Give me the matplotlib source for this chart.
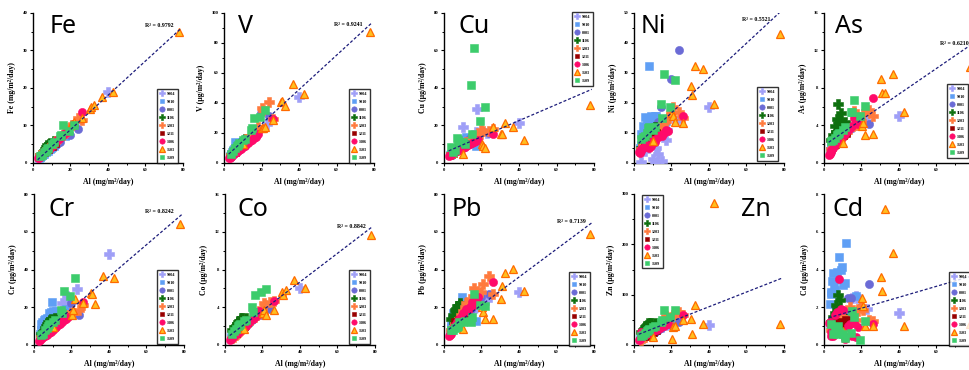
import numpy as np
import matplotlib
matplotlib.use("Agg")
import matplotlib.pyplot as plt
from matplotlib.lines import Line2D

# ---------------- data ----------------
sites = ["9904", "9910", "0001", "1106", "1203", "1211", "1306", "1503", "1509"]

# Al deposition flux (mg/m2/day) for each sampling campaign
al_9904 = [4, 6, 8, 10, 11, 12, 13, 15, 17, 17.5, 23, 40]
al_9910 = [3, 3.5, 4, 4.5, 5, 5.5, 6, 7, 8, 9, 9.5, 10, 11, 12, 17]
al_0001 = [4, 6, 9, 11, 13, 14.5, 19.5, 24]
al_1106 = [4, 4.8, 5.7, 6.5, 6.9, 7.4, 8.3, 8.5, 9, 11.3]
al_1203 = [4, 5, 6, 7, 8, 9, 10, 11, 12, 14, 16, 17, 18, 20, 21, 24, 26]
al_1211 = [6, 8, 10, 12]
al_1306 = [2.5, 3, 3.5, 4, 5, 6, 7, 8, 9, 10, 11, 12, 13, 14, 15, 16, 17, 18, 26]
al_1503 = [10, 20.5, 21, 22, 26, 30.5, 31, 32.5, 37, 42.5, 78]
al_1509 = [4, 5, 6, 7, 7.5, 8, 10, 11, 14.5, 15, 16, 19, 22]
al = {"9904": al_9904, "9910": al_9910, "0001": al_0001, "1106": al_1106,
      "1203": al_1203, "1211": al_1211, "1306": al_1306, "1503": al_1503,
      "1509": al_1509}

fe = {
    "9904": [1.7, 2.6, 3.5, 4.4, 4.9, 5.3, 5.8, 6.8, 7.8, 8.2, 11, 19],
    "9910": [1.3, 1.5, 1.7, 1.9, 2.1, 2.3, 2.5, 2.9, 3.3, 3.7, 3.9, 4.2, 4.6, 5.0, 7.2],
    "0001": [1.8, 2.6, 3.7, 4.5, 5.0, 5.5, 7.5, 9.0],
    "1106": [2.0, 2.5, 3.2, 3.8, 4.3, 4.8, 4.6, 5.0, 5.2, 5.8],
    "1203": [2.0, 2.4, 2.9, 3.3, 3.8, 4.2, 4.7, 5.1, 5.6, 6.6, 7.5, 8.0, 8.5, 9.5, 10.0, 12.0, 11.5],
    "1211": [2.8, 3.6, 4.4, 5.3],
    "1306": [1.2, 1.4, 1.6, 1.9, 2.3, 2.8, 3.3, 3.7, 4.1, 4.6, 5.0, 5.5, 6.0, 6.4, 7.0, 7.5, 8.0, 8.3, 13.5],
    "1503": [5.0, 10.0, 10.5, 11.0, 12.0, 14.5, 14.8, 15.5, 17.5, 18.8, 35.0],
    "1509": [1.8, 2.2, 2.8, 3.3, 3.6, 4.0, 5.0, 5.5, 7.2, 7.5, 10.0, 8.4, 10.2],
}
v = {
    "9904": [5, 7, 9.5, 12, 13, 14, 15.5, 17.5, 20, 21, 26, 44],
    "9910": [4.5, 5.5, 6, 7, 8.5, 9, 14, 11, 12, 13, 14, 14, 15, 16, 19],
    "0001": [5, 7.5, 11, 13, 16, 18, 33.5, 31],
    "1106": [5.5, 6.5, 8, 9.5, 10, 11, 12, 12.5, 13.5, 16],
    "1203": [5, 6.5, 8, 9, 10.5, 12, 13, 14.5, 16, 18, 20, 22, 24, 36.5, 35, 40.5, 29],
    "1211": [7.5, 10, 12, 14.5],
    "1306": [3, 3.5, 4, 4.5, 5.5, 6.5, 7.5, 8.5, 9.5, 10.5, 11.5, 12.5, 13.5, 14.5, 15.5, 16.5, 17.5, 19, 29],
    "1503": [12.5, 23.5, 23, 24.3, 28.7, 40.5, 41, 38.1, 52.8, 46.1, 87],
    "1509": [6, 8, 10, 11, 12, 13, 15, 16, 22, 23.2, 29.8, 30.5, 35.4],
}
cu = {
    "9904": [5, 6, 8, 19.4, 9, 10, 12, 14, 16.7, 29, 16, 21.5],
    "9910": [4, 5, 5, 6, 7, 6.5, 8, 8, 9, 10, 10, 11, 13, 14, 9],
    "0001": [5, 6, 8, 10, 12, 14, 16.7, 16.2],
    "1106": [5, 5.5, 6, 7, 7.5, 8, 8.5, 9, 9, 10],
    "1203": [5, 5.5, 6, 7, 8, 9, 10, 10.5, 11, 12, 13, 13.5, 14, 17.5, 17, 17, 18.2],
    "1211": [7, 8, 9, 10],
    "1306": [3.5, 4, 4.5, 5, 5.5, 6, 6.5, 7, 7.5, 8, 8.5, 9, 9.5, 10, 10.5, 11, 11.5, 12, 15.5],
    "1503": [4.8, 10, 9.3, 8.2, 19.4, 15.5, 15.3, 21.2, 19.4, 12.3, 31],
    "1509": [8.7, 6, 7, 13.5, 12, 11, 11.4, 10, 41.4, 15.3, 61.3, 22.6, 29.8],
}
ni = {
    "9904": [0.3, 4, 6, 1.2, 0.1, 4.9, 2.9, 0.7, 7.7, 11, 14, 18.7],
    "9910": [5, 6, 9.5, 7, 12.4, 11, 15.3, 14, 32.2, 15.5, 13, 14.4, 15.5, 15.5, 14],
    "0001": [5, 7, 10, 12, 13.5, 18.8, 28.1, 37.5],
    "1106": [5, 6, 7, 7.5, 8, 9, 10, 10.5, 11, 12],
    "1203": [4.5, 5.5, 6, 7, 7.5, 8, 9, 9.5, 10.5, 12, 13.5, 14, 15, 16.6, 18.8, 17.1, 15],
    "1211": [7, 8, 9, 10],
    "1306": [3.5, 3.2, 4, 4.5, 5, 5.5, 6, 4.9, 5.5, 7.7, 7, 8, 8.5, 9.35, 9, 9.9, 11, 10.5, 15.5],
    "1503": [7.3, 16.8, 15.5, 13.8, 13.3, 25.7, 22.7, 32.4, 31.3, 19.6, 43],
    "1509": [8, 8.5, 9, 10, 11.5, 12, 11, 12, 19.7, 15, 29.5, 18.5, 27.7],
}
as_ = {
    "9904": [1.5, 2.0, 2.5, 3.0, 3.2, 3.4, 3.5, 3.8, 4.0, 4.2, 4.5, 5.0],
    "9910": [1.3, 1.5, 1.7, 1.8, 2.0, 2.1, 2.3, 2.6, 2.9, 3.1, 3.2, 3.4, 3.6, 3.8, 4.2],
    "0001": [1.5, 2.0, 2.7, 3.1, 3.4, 3.7, 4.5, 4.2],
    "1106": [2.5, 3.0, 3.96, 3.35, 4.7, 6.3, 4.6, 4.06, 5.3, 4.35],
    "1203": [1.5, 1.7, 2.0, 2.2, 2.5, 2.7, 2.9, 3.1, 3.3, 3.6, 5.5, 4.0, 4.2, 4.5, 5.24, 5.67, 5.0],
    "1211": [2.0, 2.5, 3.0, 3.2],
    "1306": [0.9, 1.0, 1.2, 1.4, 1.6, 1.9, 2.1, 2.4, 2.6, 2.9, 3.1, 3.3, 3.5, 3.7, 3.9, 4.8, 4.6, 4.2, 6.88],
    "1503": [2.1, 3.96, 4.3, 2.96, 3.1, 9.0, 7.5, 7.45, 9.5, 5.4, 10.2],
    "1509": [2.3, 2.5, 2.7, 3.0, 3.1, 3.2, 3.5, 3.8, 5.4, 5.4, 6.7, 5.0, 6.1],
}
cr = {
    "9904": [5, 7, 9, 11, 12, 13, 14, 22.5, 22.5, 26, 29.6, 48],
    "9910": [6, 8, 11, 12, 11.5, 13, 14, 14.5, 17, 17.5, 22.6, 18, 17.5, 18, 19],
    "0001": [5, 7, 10, 11, 13, 15, 22.5, 16.1],
    "1106": [6, 7, 9, 10, 11, 12, 12.6, 13, 14, 14.5],
    "1203": [4, 5, 6, 7, 8, 9, 10, 11, 12, 13, 14.5, 15, 16, 17, 17, 18.4, 21],
    "1211": [7, 9, 11, 12],
    "1306": [2.2, 2.6, 3, 3.5, 4, 5, 5.5, 6.5, 7, 8, 9, 9.5, 10.5, 11, 12, 13, 14, 15, 22.9],
    "1503": [9.6, 15.8, 18.4, 24.3, 22, 27.3, 26.8, 21.6, 36.7, 35.3, 64],
    "1509": [5.5, 6, 8, 9, 10, 11, 12, 13, 18.5, 17, 28.5, 26, 35.5],
}
co = {
    "9904": [0.9, 1.2, 1.6, 2.0, 2.2, 2.3, 2.5, 2.9, 3.2, 3.3, 4.0, 6.0],
    "9910": [0.9, 1.0, 1.1, 1.2, 1.3, 1.4, 1.5, 1.7, 1.9, 2.1, 2.2, 2.3, 2.5, 2.7, 3.5],
    "0001": [0.8, 1.2, 1.7, 2.0, 2.3, 2.6, 3.2, 3.8],
    "1106": [1.6, 1.9, 2.0, 2.2, 2.4, 2.5, 2.6, 2.85, 2.87, 2.9],
    "1203": [0.7, 0.9, 1.1, 1.3, 1.5, 1.7, 1.9, 2.1, 2.3, 2.7, 3.0, 3.2, 3.4, 3.87, 4.43, 4.57, 4.7],
    "1211": [1.3, 1.7, 2.0, 2.4],
    "1306": [0.5, 0.6, 0.7, 0.8, 1.0, 1.2, 1.3, 1.5, 1.7, 1.9, 2.0, 2.2, 2.4, 2.6, 2.8, 3.0, 3.2, 3.6, 4.7],
    "1503": [1.67, 3.44, 3.7, 3.23, 3.7, 5.57, 5.35, 5.78, 6.9, 6.0, 11.7],
    "1509": [1.2, 1.5, 1.7, 2.0, 2.1, 2.2, 2.5, 2.7, 4.0, 3.5, 5.35, 5.57, 5.9],
}
pb = {
    "9904": [7, 10, 12, 14, 15, 16, 17, 18, 20, 21, 24, 28],
    "9910": [7, 9, 11, 14, 16.7, 15, 15, 17, 18, 19, 25.4, 19, 20, 18, 12.6],
    "0001": [8, 10, 13, 15, 17, 19, 25.5, 26.8],
    "1106": [14, 15.8, 18.4, 19.3, 20.7, 20.7, 22, 21.1, 20.5, 19],
    "1203": [8, 9, 11, 12.5, 14, 16, 18, 20, 22, 24.6, 30, 26, 27, 28.2, 32.4, 36.7, 27],
    "1211": [12, 13, 15, 16],
    "1306": [4.8, 5.1, 6, 7, 9, 10.5, 12, 14, 15, 16.7, 17.5, 19.3, 18, 20, 22.9, 21, 23.8, 25.4, 33.5],
    "1503": [8.3, 20, 17.6, 13.7, 14, 24.5, 31.4, 38.3, 40.1, 28.5, 59],
    "1509": [7.8, 8, 9, 9.5, 10, 12.2, 12, 12.5, 12, 14.9, 27, 21.4, 20.7],
}
zn = {
    "9904": [12, 18, 22, 25, 28, 30, 32, 36, 40, 42, 50, 40],
    "9910": [12, 14, 16, 18, 20, 22, 22, 25, 28, 30, 32, 33, 35, 38, 45],
    "0001": [12, 17, 22, 26, 30, 33, 40, 45],
    "1106": [25, 30, 35, 37, 40, 43, 44, 42, 43, 43],
    "1203": [10, 13, 16, 19, 22, 25, 28, 31, 34, 40, 45, 57, 52, 55, 59, 65, 60],
    "1211": [18, 22, 26, 30],
    "1306": [10, 11, 13, 26, 17, 19, 21, 23, 25, 27, 31, 30, 32, 34, 37, 38, 44, 42, 59],
    "1503": [15, 11, 35, 37, 49, 51, 21, 80, 41, 283, 42],
    "1509": [18, 20, 24, 28, 30, 32, 35, 38, 45, 50, 70, 55, 69],
}
cd = {
    "9904": [1.0, 1.2, 1.5, 1.6, 1.4, 1.7, 1.5, 2.5, 2.6, 2.5, 1.9, 1.7],
    "9910": [2.15, 2.7, 2.8, 3.4, 3.83, 3.2, 2.9, 3.88, 4.64, 3.96, 4.14, 3.2, 3.3, 5.38, 2.6],
    "0001": [1.0, 1.2, 1.5, 1.7, 2.5, 2.5, 2.0, 3.25],
    "1106": [1.2, 1.5, 1.7, 2.1, 1.9, 2.65, 2.4, 1.5, 1.6, 1.4],
    "1203": [0.8, 0.6, 0.9, 1.0, 1.1, 1.2, 1.5, 1.3, 1.0, 2.0, 1.7, 1.3, 1.8, 2.05, 1.85, 1.35, 1.25],
    "1211": [1.0, 1.2, 1.1, 1.3],
    "1306": [1.15, 1.23, 0.5, 0.7, 0.47, 1.6, 1.75, 3.48, 1.9, 1.85, 0.3, 0.45, 1.0, 1.11, 0.49, 1.16, 0.44, 0.97, 1.1],
    "1503": [0.76, 2.5, 2.07, 1.03, 1.0, 3.6, 2.87, 7.2, 4.86, 1.03, 1.1],
    "1509": [1.1, 0.6, 0.9, 0.6, 1.0, 0.7, 0.6, 0.35, 0.65, 1.8, 1.5, 0.25, 1.25],
}

elements = ["Fe", "V", "Cu", "Ni", "As", "Cr", "Co", "Pb", "Zn", "Cd"]
values = [fe, v, cu, ni, as_, cr, co, pb, zn, cd]
y_max = [40, 100, 80, 50, 16, 80, 16, 80, 300, 8]
y_step = [10, 20, 20, 10, 4, 20, 4, 20, 100, 2]
units = ["mg/m²/day"] + ["μg/m²/day"] * 9

# linear fits of element flux against Al flux
fit_slope = [0.458, 1.146, 0.43, 0.58, 0.137, 0.849, 0.1516, 0.74, 1.46, 0.029]
fit_intercept = [-0.27, 3.06, 5.4, 5.13, 1.87, 2.2, 0.62, 6.4, 17.6, 1.37]
r2_text = ["R² = 0.9792", "R² = 0.9241", "R² = 0.4127", "R² = 0.5521", "R² = 0.6210",
           "R² = 0.8242", "R² = 0.8842", "R² = 0.7139", "R² = 0.3521", "R² = 0.0532"]
show_r2 = [True, True, False, True, True, True, True, True, False, False]

# ---------------- styling ----------------
styles = {
    "9904": dict(marker="P", color="#9f9ff7", ms=6.6),
    "9910": dict(marker="s", color="#5f9ff5", ms=5.4),
    "0001": dict(marker="o", color="#6b6bd6", ms=5.9),
    "1106": dict(marker="P", color="#0e6f0e", ms=6.6),
    "1203": dict(marker="P", color="#ff7a3d", ms=6.6),
    "1211": dict(marker="s", color="#990000", ms=5.4),
    "1306": dict(marker="o", color="#ff0a6a", ms=5.9),
    "1503": dict(marker="^", color="#ffbf1f", ms=6.3),
    "1509": dict(marker="s", color="#3dcc6c", ms=5.4),
}

W, H = 970, 370
fig = plt.figure(figsize=(W / 100, H / 100), dpi=100)
serif = "Liberation Serif"

# panel placement in pixels: (left, top, right, bottom)
col_left = [[33, 224, 444, 634, 824], [34, 225, 444, 634, 824]]
row_tb = [(13, 163), (194, 345)]
title_x = [[50, 238, 459, 641, 835], [49, 238, 452, 741, 833]]
title_base = [33, 216]
r2_pos = [(174, 27), (363, 26), None, (771, 21), (969, 45),
          (174, 213), (366, 228), (586, 223), None, None]
legend_pos = [(157, 89), (349, 89), (572, 12), (757, 87), (947, 84),
              (157, 270), (349, 270), (569, 272), (642, 195), (949, 272)]


def fx(px):
    return px / W


def fy(py):
    return 1 - py / H


def mk(site, ms_scale=1.0):
    st = styles[site]
    kw = dict(marker=st["marker"], linestyle="none", ms=st["ms"] * ms_scale,
              markerfacecolor=st["color"], markeredgecolor=st["color"], markeredgewidth=0.4)
    if site == "1503":
        kw.update(markeredgecolor="#ff6a00", markeredgewidth=0.9)
    return kw


fline = np.array([2.5, 78.8])

for i, el in enumerate(elements):
    r, c = divmod(i, 5)
    left = col_left[r][c]
    top, bottom = row_tb[r]
    ax = fig.add_axes([fx(left), fy(bottom), 150 / W, (bottom - top) / H])
    data = values[i]
    for s in sites:
        ax.plot(al[s], data[s], **mk(s), zorder=3)
    ax.plot(fline, fit_slope[i] * fline + fit_intercept[i], color="#1c1c7a",
            lw=0.9, dashes=(2.4, 1.6), zorder=4)

    ax.set_xlim(0, 80)
    ax.set_ylim(0, y_max[i])
    ax.set_xticks(np.arange(0, 81, 20))
    ax.set_xticks(np.arange(10, 80, 20), minor=True)
    ax.set_yticks(np.arange(0, y_max[i] + 0.01, y_step[i]))
    ax.set_yticks(np.arange(y_step[i] / 2, y_max[i], y_step[i]), minor=True)
    for sp in ("top", "right"):
        ax.spines[sp].set_visible(False)
    for sp in ("left", "bottom"):
        ax.spines[sp].set_linewidth(1.0)
    ax.tick_params(which="major", direction="out", length=2.4, width=0.8, pad=1.5,
                   labelsize=3.4)
    ax.tick_params(which="minor", direction="out", length=1.3, width=0.7)
    for lab in ax.get_xticklabels() + ax.get_yticklabels():
        lab.set_fontfamily(serif)
        lab.set_fontweight("bold")
    ax.set_xlabel("Al (mg/m²/day)", fontfamily=serif, fontweight="bold",
                  fontsize=5.6, labelpad=4)
    ax.set_ylabel(f"{el} ({units[i]})", fontfamily=serif, fontweight="bold",
                  fontsize=5.6, labelpad=5)

    handles = [Line2D([], [], **mk(s, 0.66)) for s in sites]
    lx, ly = legend_pos[i]
    leg = ax.legend(handles, sites, loc="upper left",
                    bbox_to_anchor=(fx(lx), fy(ly)), bbox_transform=fig.transFigure,
                    borderaxespad=0, frameon=True, fancybox=False,
                    prop=dict(family=serif, weight="bold", size=3.0),
                    handlelength=1.0, handletextpad=0.6, labelspacing=0.95,
                    borderpad=0.7)
    leg.get_frame().set_edgecolor("black")
    leg.get_frame().set_linewidth(1.0)
    leg.set_zorder(10)

    fig.text(fx(title_x[r][c]), fy(title_base[r]), el, fontfamily="Noto Sans",
             fontweight="bold", fontsize=18, ha="left", va="baseline")
    if show_r2[i]:
        px, py = r2_pos[i]
        fig.text(fx(px), fy(py), r2_text[i], fontfamily=serif, fontweight="bold",
                 fontsize=4.2, ha="right", va="baseline")

fig.savefig("out.png", dpi=100, facecolor="white")
